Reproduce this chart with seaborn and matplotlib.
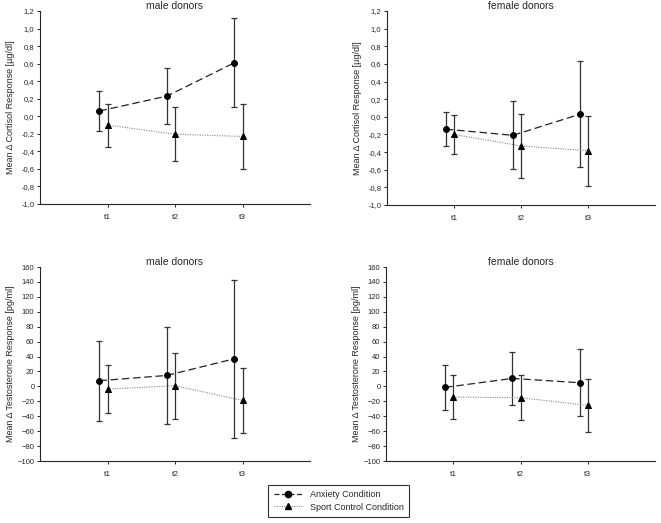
import numpy as np
import pandas as pd
import matplotlib
matplotlib.use("Agg")
import matplotlib.pyplot as plt
import seaborn as sns
from matplotlib.ticker import FuncFormatter
from matplotlib.lines import Line2D

# data
times = ["t1", "t2", "t3"]

cort_male_anx = [0.06, 0.23, 0.61]
cort_male_anx_err = [0.23, 0.32, 0.51]
cort_male_spo = [-0.10, -0.205, -0.23]
cort_male_spo_err = [0.245, 0.31, 0.37]

cort_female_anx = [-0.14, -0.21, 0.03]
cort_female_anx_err = [0.195, 0.385, 0.60]
cort_female_spo = [-0.20, -0.33, -0.385]
cort_female_spo_err = [0.22, 0.365, 0.395]

test_male_anx = [7.6, 14.7, 37.0]
test_male_anx_err = [53.5, 65.5, 106.0]
test_male_spo = [-3.6, 0.9, -18.8]
test_male_spo_err = [31.7, 44.0, 43.4]

test_female_anx = [-1.3, 10.7, 4.9]
test_female_anx_err = [30.0, 36.0, 45.0]
test_female_spo = [-14.3, -15.2, -25.5]
test_female_spo_err = [29.5, 30.5, 35.0]

sns.set_style("ticks")
plt.rcParams['font.family'] = ['Liberation Sans', 'DejaVu Sans']

fig = plt.figure(figsize=(6.61, 5.23), dpi=100)

W = 661.0
H = 523.0
def add_ax(x0, x1, ytop, ybot):
    return fig.add_axes([x0 / W, (H - ybot) / H, (x1 - x0) / W, (ybot - ytop) / H])

ax_tl = add_ax(40, 310, 11, 204)
ax_tr = add_ax(387, 655, 11, 205)
ax_bl = add_ax(40, 310, 267, 461)
ax_br = add_ax(386, 655, 267, 461)

def comma_fmt(v, p):
    v = round(v, 1)
    s = ("%.1f" % abs(v)).replace(".", ",")
    return s if v >= 0 or abs(v) < 1e-9 else "-" + s
comma = FuncFormatter(comma_fmt)

def panel(ax, anx, anx_err, spo, spo_err, title, ylabel, ylim, step, fmt=None):
    pos = np.arange(1, len(times) + 1)
    df = pd.DataFrame({
        "x": np.concatenate([pos - 0.12, pos]),
        "y": anx + spo,
        "err": anx_err + spo_err,
        "cond": ["Anxiety Condition"] * 3 + ["Sport Control Condition"] * 3,
    })
    a = df[df.cond == "Anxiety Condition"]
    s = df[df.cond == "Sport Control Condition"]
    for d in (a, s):
        ax.errorbar(d.x, d.y, yerr=d.err, fmt="none", ecolor="#333333", elinewidth=0.9,
                    capsize=2.0, capthick=0.9, zorder=2)
    sns.lineplot(data=a, x="x", y="y", ax=ax, color="#222222", lw=0.9,
                 linestyle=(0, (6, 3)), marker="o", markersize=4.2,
                 markeredgecolor="black", markerfacecolor="black", zorder=3)
    sns.lineplot(data=s, x="x", y="y", ax=ax, color="#888888", lw=0.8,
                 linestyle=(0, (1, 1.2)), marker="^", markersize=4.2,
                 markeredgecolor="black", markerfacecolor="black", zorder=3)
    ax.set_xlim(0, 4)
    ax.set_ylim(*ylim)
    ax.set_xticks(pos)
    ax.set_xticklabels(times)
    ax.set_yticks(np.arange(ylim[0], ylim[1] + step / 2, step))
    if fmt is not None:
        ax.yaxis.set_major_formatter(fmt)
    ax.set_xlabel("")
    ax.set_ylabel(ylabel, fontsize=6.5)
    ax.yaxis.set_label_coords(-0.094, 0.5)
    ax.set_title(title, fontsize=7.5, pad=0)
    ax.tick_params(axis="both", labelsize=5.5, length=2.5, width=0.7, pad=1.5)
    ax.tick_params(axis="x", labelsize=6, pad=5)
    for sp in ["left", "bottom"]:
        ax.spines[sp].set_linewidth(0.8)
    sns.despine(ax=ax)

panel(ax_tl, cort_male_anx, cort_male_anx_err, cort_male_spo, cort_male_spo_err,
      "male donors", "Mean \u0394 Cortisol Response [\u00b5g/dl]", (-1.0, 1.2), 0.2, comma)
panel(ax_tr, cort_female_anx, cort_female_anx_err, cort_female_spo, cort_female_spo_err,
      "female donors", "Mean \u0394 Cortisol Response [\u00b5g/dl]", (-1.0, 1.2), 0.2, comma)
panel(ax_bl, test_male_anx, test_male_anx_err, test_male_spo, test_male_spo_err,
      "male donors", "Mean \u0394 Testosterone Response [pg/ml]", (-100, 160), 20)
panel(ax_br, test_female_anx, test_female_anx_err, test_female_spo, test_female_spo_err,
      "female donors", "Mean \u0394 Testosterone Response [pg/ml]", (-100, 160), 20)

handles = [
    Line2D([], [], color="#222222", lw=0.9, linestyle=(0, (4, 2)), marker="o",
           markersize=4.5, markerfacecolor="black", markeredgecolor="black"),
    Line2D([], [], color="#888888", lw=0.8, linestyle=(0, (1, 1.2)), marker="^",
           markersize=4.5, markerfacecolor="black", markeredgecolor="black"),
]
leg = fig.legend(handles, ["Anxiety Condition", "Sport Control Condition"],
                 loc="center", bbox_to_anchor=(338.5 / W, (H - 501) / H),
                 fontsize=6.5, frameon=True, fancybox=False, edgecolor="black",
                 handlelength=3.2, borderpad=0.6, labelspacing=0.35, handletextpad=0.8)
leg.get_frame().set_linewidth(0.8)

fig.savefig("out.png", dpi=100)
